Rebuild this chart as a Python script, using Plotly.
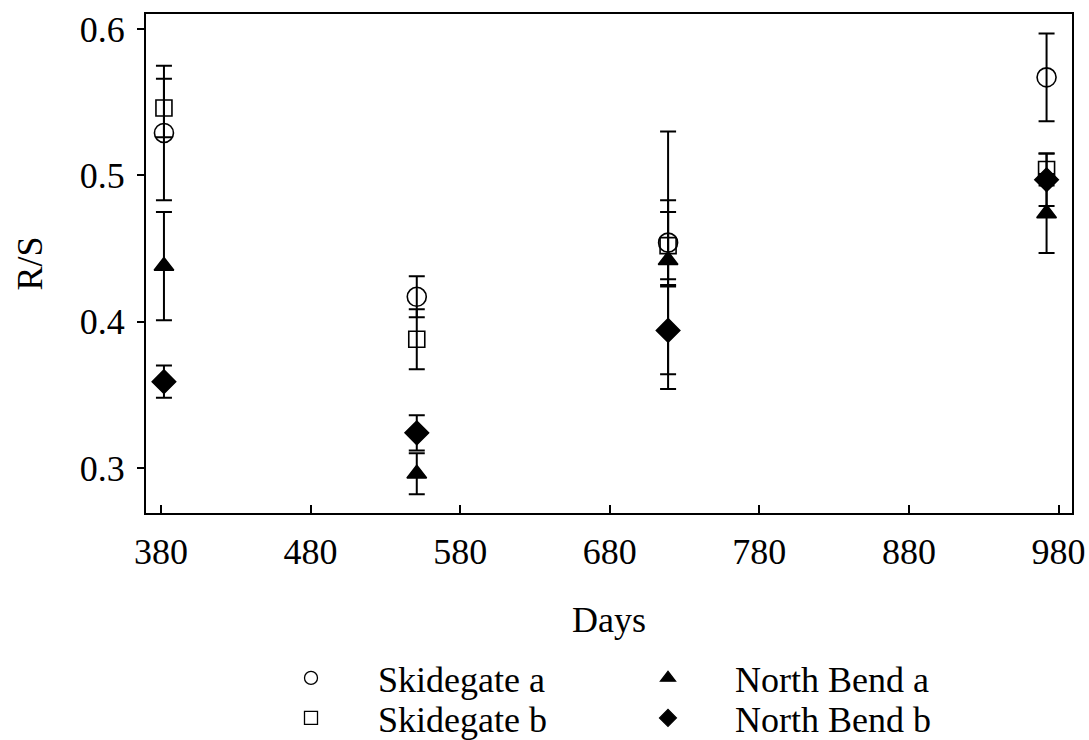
import plotly.graph_objects as go

# Sampling days
days = [382, 551, 719, 972]

# R/S means and standard errors per population
skidegate_a = [0.529, 0.417, 0.454, 0.567]
skidegate_a_err = [0.046, 0.014, 0.029, 0.030]

skidegate_b = [0.546, 0.388, 0.452, 0.504]
skidegate_b_err = [0.020, 0.0205, 0.023, 0.011]

north_bend_a = [0.438, 0.296, 0.442, 0.474]
north_bend_a_err = [0.037, 0.014, 0.088, 0.027]

north_bend_b = [0.359, 0.324, 0.394, 0.497]
north_bend_b_err = [0.011, 0.012, 0.030, 0.018]

x_ticks = [380, 480, 580, 680, 780, 880, 980]
y_ticks = [0.3, 0.4, 0.5, 0.6]

FONT = "Liberation Serif, Times New Roman, serif"
FS = 36

series = [
    ("Skidegate a", skidegate_a, skidegate_a_err, "circle-open", 19),
    ("Skidegate b", skidegate_b, skidegate_b_err, "square-open", 16),
    ("North Bend a", north_bend_a, north_bend_a_err, "triangle-up", 17),
    ("North Bend b", north_bend_b, north_bend_b_err, "diamond", 18),
]

fig = go.Figure()

for name, vals, errs, sym, size in series:
    fig.add_trace(go.Scatter(
        x=days, y=vals, mode="markers", name=name, showlegend=False,
        marker=dict(symbol=sym, size=size, color="black",
                    line=dict(color="black", width=1.6)),
        error_y=dict(type="data", array=errs, visible=True,
                     color="black", thickness=2, width=8),
    ))

# Legend entries (markers only): one legend per row
legend_rows = {
    "legend": ["Skidegate a", "North Bend a"],
    "legend2": ["Skidegate b", "North Bend b"],
}
lookup = {s[0]: s for s in series}
for legend_id, names in legend_rows.items():
    for name in names:
        sym = lookup[name][3]
        fig.add_trace(go.Scatter(
            x=[None], y=[None], mode="markers", name=name, showlegend=True,
            legend=legend_id,
            marker=dict(symbol=sym, size=13, color="black",
                        line=dict(color="black", width=1.3)),
        ))

legend_common = dict(
    orientation="h", xref="container", x=(313 - 67 - 2) / 1089,
    xanchor="left", yref="container", yanchor="top",
    itemwidth=124, entrywidth=218, entrywidthmode="pixels",
    font=dict(family=FONT, size=FS, color="black"),
    itemclick=False, bgcolor="rgba(0,0,0,0)",
)

fig.update_layout(
    width=1089, height=740,
    margin=dict(l=146, r=17, t=14, b=227, autoexpand=False),
    paper_bgcolor="white", plot_bgcolor="white",
    font=dict(family=FONT, size=FS, color="black"),
    legend=dict(y=1 - 648 / 740, **legend_common),
    legend2=dict(y=1 - 688 / 740, **legend_common),
)

fig.update_xaxes(
    range=[370, 989], tickvals=x_ticks, ticktext=[str(v) for v in x_ticks],
    showgrid=False, zeroline=False, showline=True, linecolor="black",
    linewidth=2, mirror=True, ticks="inside", ticklen=8, tickwidth=1.5,
    tickcolor="black", ticklabelstandoff=6, automargin=False,
    title=dict(text="Days", standoff=36, font=dict(family=FONT, size=FS)),
)

fig.update_yaxes(
    range=[0.2692, 0.6103], tickvals=y_ticks,
    ticktext=[f"{v:.1f}" for v in y_ticks],
    showgrid=False, zeroline=False, showline=True, linecolor="black",
    linewidth=2, mirror=True, ticks="outside", ticklen=7, tickwidth=1.5,
    tickcolor="black", ticklabelstandoff=5, automargin=False,
    title=dict(text="R/S", standoff=26, font=dict(family=FONT, size=FS)),
)

fig.write_html("out.html")
